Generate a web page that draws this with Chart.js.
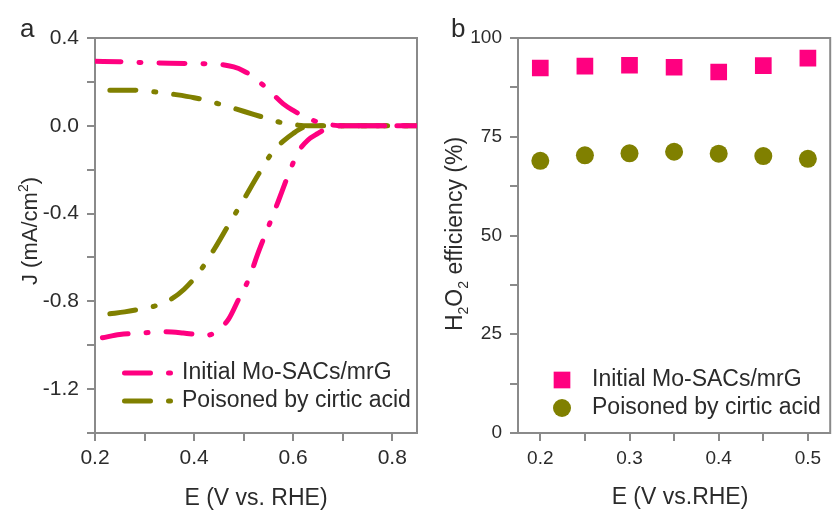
<!DOCTYPE html>
<html lang="en">
<head>
<meta charset="UTF-8" />
<title>Mo-SACs/mrG: RRDE curves and H2O2 efficiency</title>
<script src="https://cdn.jsdelivr.net/npm/chart.js"></script>
<style>
    html, body {
        margin: 0;
        padding: 0;
        background: #fff;
        width: 838px;
        height: 511px;
        overflow: hidden;
    }

    canvas {
        position: absolute;
        top: 0;
    }

    #lsvChart { left: 0; }
    #effChart { left: 420px; }
</style>
</head>
<body>

<canvas id="lsvChart" width="420" height="511"></canvas>
<canvas id="effChart" width="422" height="511"></canvas>

<script>
    // ---- panel a : disk (negative) and ring (positive) currents ----
    const eDiskInit = [0.215, 0.25, 0.297, 0.338, 0.378, 0.425, 0.45, 0.47, 0.49, 0.51, 0.53, 0.55, 0.57, 0.59, 0.61, 0.63, 0.65, 0.67, 0.70, 0.75, 0.80, 0.85];
    const jDiskInit = [-0.966, -0.951, -0.944, -0.938, -0.944, -0.956, -0.928, -0.88, -0.79, -0.70, -0.575, -0.46, -0.344, -0.225, -0.12, -0.065, -0.035, -0.01, 0, 0, 0, 0];

    const eRingInit = [0.20, 0.25, 0.30, 0.35, 0.40, 0.45, 0.48, 0.50, 0.52, 0.54, 0.56, 0.58, 0.60, 0.62, 0.64, 0.66, 0.68, 0.70, 0.75, 0.80, 0.85];
    const jRingInit = [0.294, 0.292, 0.288, 0.285, 0.283, 0.280, 0.268, 0.250, 0.222, 0.184, 0.142, 0.100, 0.070, 0.045, 0.025, 0.010, 0.003, 0, 0, 0, 0];

    const eDiskCitric = [0.23, 0.26, 0.29, 0.32, 0.35, 0.38, 0.41, 0.44, 0.47, 0.50, 0.53, 0.56, 0.58, 0.60, 0.62, 0.64, 0.70, 0.75, 0.80, 0.85];
    const jDiskCitric = [-0.857, -0.848, -0.836, -0.822, -0.795, -0.745, -0.668, -0.565, -0.45, -0.337, -0.221, -0.115, -0.07, -0.035, -0.008, 0, 0, 0, 0, 0];

    const eRingCitric = [0.23, 0.28, 0.32, 0.36, 0.40, 0.44, 0.48, 0.52, 0.55, 0.58, 0.61, 0.63, 0.70, 0.75, 0.80, 0.85];
    const jRingCitric = [0.162, 0.162, 0.155, 0.143, 0.128, 0.106, 0.080, 0.052, 0.032, 0.012, 0.003, 0, 0, 0, 0, 0];

    const lsvTicksX = [0.2, 0.3, 0.4, 0.5, 0.6, 0.7, 0.8];
    const lsvTicksY = [-1.4, -1.2, -1.0, -0.8, -0.6, -0.4, -0.2, 0.0, 0.2, 0.4];

    // ---- panel b : H2O2 selectivity ----
    const ePotential = [0.20, 0.25, 0.30, 0.35, 0.40, 0.45, 0.50];
    const effInit = [92.4, 92.9, 93.1, 92.6, 91.4, 93.0, 94.9];
    const effCitric = [68.9, 70.3, 70.8, 71.2, 70.7, 70.1, 69.4];

    const effTicksX = [0.2, 0.25, 0.3, 0.35, 0.4, 0.45, 0.5];
    const effTicksY = [0, 12.5, 25, 37.5, 50, 62.5, 75, 87.5, 100];

    const labelInit = 'Initial Mo-SACs/mrG';
    const labelCitric = 'Poisoned by cirtic acid';

    const PINK = '#ff0080';
    const OLIVE = '#808000';
    const AXIS = '#8a8a8a';
    const TEXT = '#2b2b2b';
    const FONT = "'Liberation Sans', Arial, sans-serif";
    const DASH = [26, 18, 2, 18];

    const toXY = (xs, ys) => xs.map((x, i) => ({ x: x, y: ys[i] }));
    const isMult = (v, s) => Math.abs(v / s - Math.round(v / s)) < 1e-6;
    const fmt1 = v => (Math.abs(v) < 1e-9 ? 0 : v).toFixed(1);
    const fixTicks = list => s => { s.ticks = list.map(v => ({ value: v })); };

    // text with sub/superscripts, rotated to read bottom-to-top
    function drawRotatedParts(ctx, parts, baseX, centerY) {
        ctx.save();
        ctx.translate(baseX, centerY);
        ctx.rotate(-Math.PI / 2);
        ctx.fillStyle = TEXT;
        ctx.textBaseline = 'alphabetic';
        ctx.textAlign = 'left';
        let total = 0;
        parts.forEach(p => {
            ctx.font = p.size + 'px ' + FONT;
            total += ctx.measureText(p.t).width;
        });
        let x = -total / 2;
        parts.forEach(p => {
            ctx.font = p.size + 'px ' + FONT;
            ctx.fillText(p.t, x, p.dy);
            x += ctx.measureText(p.t).width;
        });
        ctx.restore();
    }

    function drawFrame(ctx, area) {
        ctx.save();
        ctx.strokeStyle = AXIS;
        ctx.lineWidth = 2;
        ctx.strokeRect(area.left, area.top, area.right - area.left, area.bottom - area.top);
        ctx.restore();
    }

    const lineSet = (label, xs, ys, color) => ({
        label: label,
        data: toXY(xs, ys),
        borderColor: color,
        backgroundColor: color,
        borderWidth: 5,
        borderDash: DASH,
        borderCapStyle: 'round',
        pointRadius: 0,
        cubicInterpolationMode: 'monotone',
        fill: false
    });

    const axisGrid = { drawOnChartArea: false, color: AXIS, lineWidth: 2, tickLength: 8 };

    const lsvDecor = {
        id: 'lsvDecor',
        beforeDatasetsDraw(chart) {
            drawFrame(chart.ctx, chart.chartArea);
        },
        afterDraw(chart) {
            const ctx = chart.ctx;
            ctx.save();
            ctx.fillStyle = TEXT;
            ctx.font = '26px ' + FONT;
            ctx.textBaseline = 'alphabetic';
            ctx.fillText('a', 20, 37);

            ctx.font = '23px ' + FONT;
            ctx.textAlign = 'center';
            ctx.fillText('E (V vs. RHE)', 256, 505);

            // legend: one entry per sample
            const seen = [];
            chart.data.datasets.forEach(ds => {
                if (seen.find(s => s.label === ds.label)) return;
                seen.push(ds);
            });
            seen.forEach((ds, i) => {
                const y = 373 + i * 28;
                ctx.strokeStyle = ds.borderColor;
                ctx.lineWidth = ds.borderWidth;
                ctx.lineCap = 'round';
                ctx.setLineDash(ds.borderDash);
                ctx.beginPath();
                ctx.moveTo(124.5, y);
                ctx.lineTo(171, y);
                ctx.stroke();
                ctx.setLineDash([]);
                ctx.fillStyle = TEXT;
                ctx.font = '23px ' + FONT;
                ctx.textAlign = 'left';
                ctx.textBaseline = 'middle';
                ctx.fillText(ds.label, 182, y);
            });
            ctx.restore();

            drawRotatedParts(ctx, [
                { t: 'J (mA/cm', size: 22, dy: 0 },
                { t: '2', size: 14, dy: -9 },
                { t: ')', size: 22, dy: 0 }
            ], 37, 231);
        }
    };

    new Chart(document.getElementById('lsvChart').getContext('2d'), {
        type: 'line',
        data: {
            datasets: [
                lineSet(labelInit, eDiskInit, jDiskInit, PINK),
                lineSet(labelInit, eRingInit, jRingInit, PINK),
                lineSet(labelCitric, eDiskCitric, jDiskCitric, OLIVE),
                lineSet(labelCitric, eRingCitric, jRingCitric, OLIVE)
            ]
        },
        options: {
            responsive: false,
            animation: false,
            devicePixelRatio: 1,
            layout: { padding: { top: 38, right: 3, left: 0, bottom: 0 } },
            plugins: { legend: { display: false }, tooltip: { enabled: false } },
            scales: {
                x: {
                    type: 'linear',
                    min: 0.2,
                    max: 0.85,
                    border: { display: false },
                    grid: axisGrid,
                    afterBuildTicks: fixTicks(lsvTicksX),
                    afterFit: s => { s.height = 78; },
                    ticks: {
                        autoSkip: false,
                        maxRotation: 0,
                        padding: 5,
                        color: TEXT,
                        font: { family: FONT, size: 21 },
                        callback: v => isMult(v, 0.2) ? fmt1(v) : ''
                    }
                },
                y: {
                    min: -1.4,
                    max: 0.4,
                    border: { display: false },
                    grid: axisGrid,
                    afterBuildTicks: fixTicks(lsvTicksY),
                    afterFit: s => { s.width = 95; },
                    ticks: {
                        autoSkip: false,
                        padding: 8,
                        color: TEXT,
                        font: { family: FONT, size: 21 },
                        callback: v => isMult(v, 0.4) ? fmt1(v) : ''
                    }
                }
            }
        },
        plugins: [lsvDecor]
    });

    const effDecor = {
        id: 'effDecor',
        beforeDatasetsDraw(chart) {
            drawFrame(chart.ctx, chart.chartArea);
        },
        afterDraw(chart) {
            const ctx = chart.ctx;
            ctx.save();
            ctx.fillStyle = TEXT;
            ctx.font = '26px ' + FONT;
            ctx.textBaseline = 'alphabetic';
            ctx.fillText('b', 31, 37);

            ctx.font = '23px ' + FONT;
            ctx.textAlign = 'center';
            ctx.fillText('E (V vs.RHE)', 260, 504);

            chart.data.datasets.forEach((ds, i) => {
                const x = 142, y = 380 + i * 28;
                ctx.fillStyle = ds.backgroundColor;
                ctx.beginPath();
                if (ds.pointStyle === 'rect') {
                    const h = Math.SQRT1_2 * ds.pointRadius;
                    ctx.rect(x - h, y - h, 2 * h, 2 * h);
                } else {
                    ctx.arc(x, y, ds.pointRadius, 0, Math.PI * 2);
                }
                ctx.fill();
                ctx.fillStyle = TEXT;
                ctx.font = '23px ' + FONT;
                ctx.textAlign = 'left';
                ctx.textBaseline = 'middle';
                ctx.fillText(ds.label, 172, y);
            });
            ctx.restore();

            drawRotatedParts(ctx, [
                { t: 'H', size: 23, dy: 0 },
                { t: '2', size: 14, dy: 6 },
                { t: 'O', size: 23, dy: 0 },
                { t: '2', size: 14, dy: 6 },
                { t: ' efficiency (%)', size: 23, dy: 0 }
            ], 42, 234);
        }
    };

    new Chart(document.getElementById('effChart').getContext('2d'), {
        type: 'scatter',
        data: {
            datasets: [
                {
                    label: labelInit,
                    data: toXY(ePotential, effInit),
                    pointStyle: 'rect',
                    pointRadius: 11.8,
                    backgroundColor: PINK,
                    borderColor: PINK,
                    borderWidth: 0
                },
                {
                    label: labelCitric,
                    data: toXY(ePotential, effCitric),
                    pointStyle: 'circle',
                    pointRadius: 9,
                    backgroundColor: OLIVE,
                    borderColor: OLIVE,
                    borderWidth: 0
                }
            ]
        },
        options: {
            responsive: false,
            animation: false,
            devicePixelRatio: 1,
            layout: { padding: { top: 38, right: 1, left: 0, bottom: 0 } },
            plugins: { legend: { display: false }, tooltip: { enabled: false } },
            scales: {
                x: {
                    type: 'linear',
                    min: 0.175,
                    max: 0.525,
                    border: { display: false },
                    grid: axisGrid,
                    afterBuildTicks: fixTicks(effTicksX),
                    afterFit: s => { s.height = 78; },
                    ticks: {
                        autoSkip: false,
                        maxRotation: 0,
                        padding: 6,
                        color: TEXT,
                        font: { family: FONT, size: 19 },
                        callback: v => isMult(v, 0.1) ? fmt1(v) : ''
                    }
                },
                y: {
                    min: 0,
                    max: 100,
                    border: { display: false },
                    grid: axisGrid,
                    afterBuildTicks: fixTicks(effTicksY),
                    afterFit: s => { s.width = 98; },
                    ticks: {
                        autoSkip: false,
                        padding: 8,
                        color: TEXT,
                        font: { family: FONT, size: 19 },
                        callback: v => isMult(v, 25) ? String(Math.round(v)) : ''
                    }
                }
            }
        },
        plugins: [effDecor]
    });
</script>
</body>
</html>
